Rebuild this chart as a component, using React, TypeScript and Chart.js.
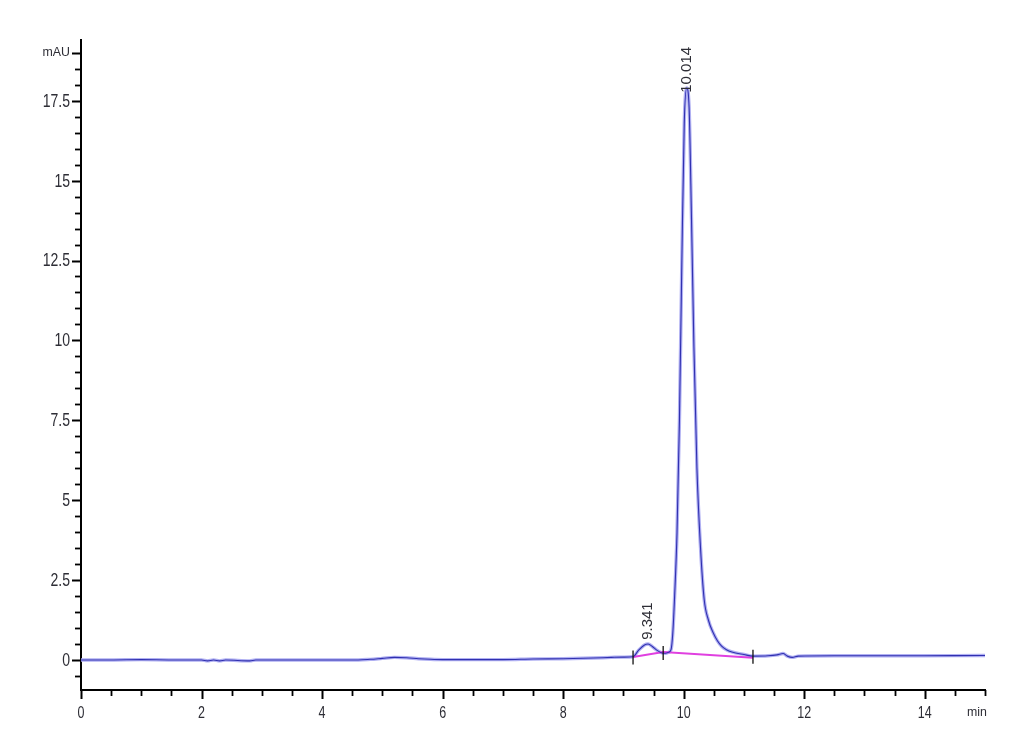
import React, { useEffect, useRef } from 'react';
import { Chart, registerables } from 'chart.js';

Chart.register(...registerables);

// Chromatogram trace (retention time in min, signal in mAU)
const retentionTimes = [
  0, 0.5, 1.0, 1.5, 2.0, 2.1, 2.2, 2.3, 2.4, 2.8, 2.9, 3.5, 4.0, 4.6, 4.8, 5.0, 5.2, 5.4, 5.6, 5.8,
  6.0, 6.5, 7.0, 7.5, 8.0, 8.5, 8.8, 9.0, 9.16, 9.25, 9.35, 9.41, 9.48, 9.56, 9.64, 9.7, 9.75, 9.79,
  9.82, 9.85, 9.89, 9.93, 9.97, 10.01, 10.05, 10.09, 10.13, 10.17, 10.22, 10.28, 10.34, 10.41, 10.49,
  10.56, 10.63, 10.71, 10.8, 11.0, 11.15, 11.4, 11.55, 11.65, 11.72, 11.8, 11.9, 12.5, 13.0, 14.0, 14.95, 15.0,
];
const absorbance = [
  0.0, 0.0, 0.01, 0.0, 0.0, -0.03, 0.0, -0.03, 0.0, -0.03, 0.0, 0.0, 0.0, 0.0, 0.02, 0.05, 0.08, 0.07, 0.04, 0.02,
  0.01, 0.01, 0.01, 0.03, 0.04, 0.06, 0.08, 0.09, 0.1, 0.3, 0.47, 0.5, 0.42, 0.3, 0.22, 0.21, 0.24, 0.32,
  0.85, 2.0, 4.0, 7.5, 12.5, 16.8, 17.9, 17.3, 13.8, 9.8, 6.0, 3.5, 1.9, 1.25, 0.85,
  0.6, 0.43, 0.32, 0.25, 0.17, 0.12, 0.13, 0.16, 0.2, 0.12, 0.08, 0.12, 0.13, 0.13, 0.13, 0.14, 0.14,
];

// Integration baseline
const baselineTimes = [9.16, 9.66, 11.15];
const baselineValues = [0.09, 0.25, 0.07];

// Peak start / end markers
const markerTimes = [9.16, 9.66, 11.15];
const markerValues = [0.08, 0.22, 0.1];

// Peak labels (text, time, value where the text starts)
const peakLabels = ['9.341', '10.014'];
const peakTimes = [9.41, 10.06];
const peakLabelStart = [0.63, 17.75];

// Tick labels
const xTickValues = [0, 2, 4, 6, 8, 10, 12, 14];
const xUnitValue = 15;
const xUnitLabel = 'min';
const yTickValues = [0, 2.5, 5, 7.5, 10, 12.5, 15, 17.5];
const yUnitValue = 19;
const yUnitLabel = 'mAU';

const FONT = "'Liberation Sans', Arial, sans-serif";
const TEXT_COLOR = '#2e2e36';

const near = (a: number, b: number) => Math.abs(a - b) < 1e-6;

export default function App() {
  const canvasRef = useRef<HTMLCanvasElement | null>(null);

  useEffect(() => {
    const canvas = canvasRef.current;
    if (!canvas) return;

    const tracePoints = retentionTimes.map((t, i) => ({ x: t, y: absorbance[i] }));
    const baselinePoints = baselineTimes.map((t, i) => ({ x: t, y: baselineValues[i] }));

    const drawText = (
      ctx: CanvasRenderingContext2D,
      text: string,
      x: number,
      y: number,
      size: number,
      sx: number,
      align: CanvasTextAlign,
    ) => {
      ctx.save();
      ctx.translate(x, y);
      ctx.scale(sx, 1);
      ctx.font = `${size}px ${FONT}`;
      ctx.textAlign = align;
      ctx.textBaseline = 'middle';
      ctx.fillStyle = TEXT_COLOR;
      ctx.fillText(text, 0, 0);
      ctx.restore();
    };

    const axisPlugin = {
      id: 'axisDecor',
      afterDraw(chart: any) {
        const { ctx, scales, chartArea } = chart;
        const xs = scales.x;
        const ys = scales.y;
        ctx.save();
        ctx.strokeStyle = '#000';
        // y ticks
        ys.ticks.forEach((tk: any) => {
          const major = yTickValues.some((v) => near(v, tk.value)) || near(tk.value, yUnitValue);
          const py = Math.round(ys.getPixelForValue(tk.value)) + 0.5;
          ctx.lineWidth = major ? 2 : 1.8;
          ctx.beginPath();
          ctx.moveTo(chartArea.left, py);
          ctx.lineTo(chartArea.left - (major ? 9 : 6), py);
          ctx.stroke();
        });
        // x ticks
        xs.ticks.forEach((tk: any) => {
          const major = xTickValues.some((v) => near(v, tk.value));
          const px = Math.round(xs.getPixelForValue(tk.value)) + 0.5;
          ctx.lineWidth = major ? 2 : 1.8;
          ctx.beginPath();
          ctx.moveTo(px, chartArea.bottom);
          ctx.lineTo(px, chartArea.bottom + (major ? 9 : 6));
          ctx.stroke();
        });
        ctx.restore();

        // tick labels
        yTickValues.forEach((v) => {
          drawText(ctx, String(v), chartArea.left - 11, ys.getPixelForValue(v) + 1, 18, 0.78, 'right');
        });
        drawText(ctx, yUnitLabel, chartArea.left - 11, ys.getPixelForValue(yUnitValue), 13, 0.95, 'right');
        xTickValues.forEach((v) => {
          drawText(ctx, String(v), xs.getPixelForValue(v), chartArea.bottom + 24, 16, 0.78, 'center');
        });
        drawText(ctx, xUnitLabel, xs.getPixelForValue(xUnitValue) - 8, chartArea.bottom + 22, 13, 0.95, 'center');
      },
      afterDatasetsDraw(chart: any) {
        const { ctx, scales } = chart;
        const xs = scales.x;
        const ys = scales.y;
        ctx.save();
        ctx.strokeStyle = '#111';
        ctx.lineWidth = 1.3;
        markerTimes.forEach((t, i) => {
          const px = xs.getPixelForValue(t);
          const py = ys.getPixelForValue(markerValues[i]);
          ctx.beginPath();
          ctx.moveTo(px, py - 7);
          ctx.lineTo(px, py + 7);
          ctx.stroke();
        });
        ctx.fillStyle = TEXT_COLOR;
        ctx.font = `15px ${FONT}`;
        ctx.textAlign = 'left';
        ctx.textBaseline = 'middle';
        peakLabels.forEach((lab, i) => {
          const px = xs.getPixelForValue(peakTimes[i]);
          const py = ys.getPixelForValue(peakLabelStart[i]);
          ctx.save();
          ctx.translate(px, py);
          ctx.rotate(-Math.PI / 2);
          ctx.fillText(lab, 0, 0);
          ctx.restore();
        });
        ctx.restore();
      },
    };

    const chart = new Chart(canvas, {
      type: 'line',
      data: {
        datasets: [
          {
            data: tracePoints,
            borderColor: '#3030b0',
            borderWidth: 1.1,
            pointRadius: 0,
            cubicInterpolationMode: 'monotone',
            fill: false,
          },
          {
            data: baselinePoints,
            borderColor: '#e040e0',
            borderWidth: 2,
            pointRadius: 0,
            fill: false,
          },
          {
            data: tracePoints,
            borderColor: '#b0b0f2',
            borderWidth: 3.4,
            pointRadius: 0,
            cubicInterpolationMode: 'monotone',
            fill: false,
          },
        ],
      },
      options: {
        animation: false,
        responsive: true,
        maintainAspectRatio: false,
        layout: { padding: { top: 40, right: 45, left: 0, bottom: 0 } },
        plugins: { legend: { display: false }, tooltip: { enabled: false }, title: { display: false } },
        scales: {
          x: {
            type: 'linear',
            min: 0,
            max: 15,
            afterBuildTicks: (scale: any) => {
              const ticks = [];
              for (let v = 0; v <= 15 + 1e-9; v += 0.5) ticks.push({ value: Math.round(v * 10) / 10 });
              scale.ticks = ticks;
            },
            afterFit: (scale: any) => {
              scale.height = 65;
            },
            border: { display: true, color: '#000', width: 2 },
            grid: { display: false, drawOnChartArea: false, drawTicks: false },
            ticks: { display: false, autoSkip: false },
          },
          y: {
            type: 'linear',
            min: -0.94,
            max: 19.4,
            afterBuildTicks: (scale: any) => {
              const ticks = [];
              for (let v = -0.5; v <= 19 + 1e-9; v += 0.5) ticks.push({ value: Math.round(v * 10) / 10 });
              scale.ticks = ticks;
            },
            afterFit: (scale: any) => {
              scale.width = 81;
            },
            border: { display: true, color: '#000', width: 2 },
            grid: { display: false, drawOnChartArea: false, drawTicks: false },
            ticks: { display: false, autoSkip: false },
          },
        },
      },
      plugins: [axisPlugin],
    } as any);

    return () => {
      chart.destroy();
    };
  }, []);

  return (
    <div style={{ position: 'absolute', left: 0, top: 0, width: 1030, height: 755, background: '#fff' }}>
      <canvas ref={canvasRef} />
    </div>
  );
}
